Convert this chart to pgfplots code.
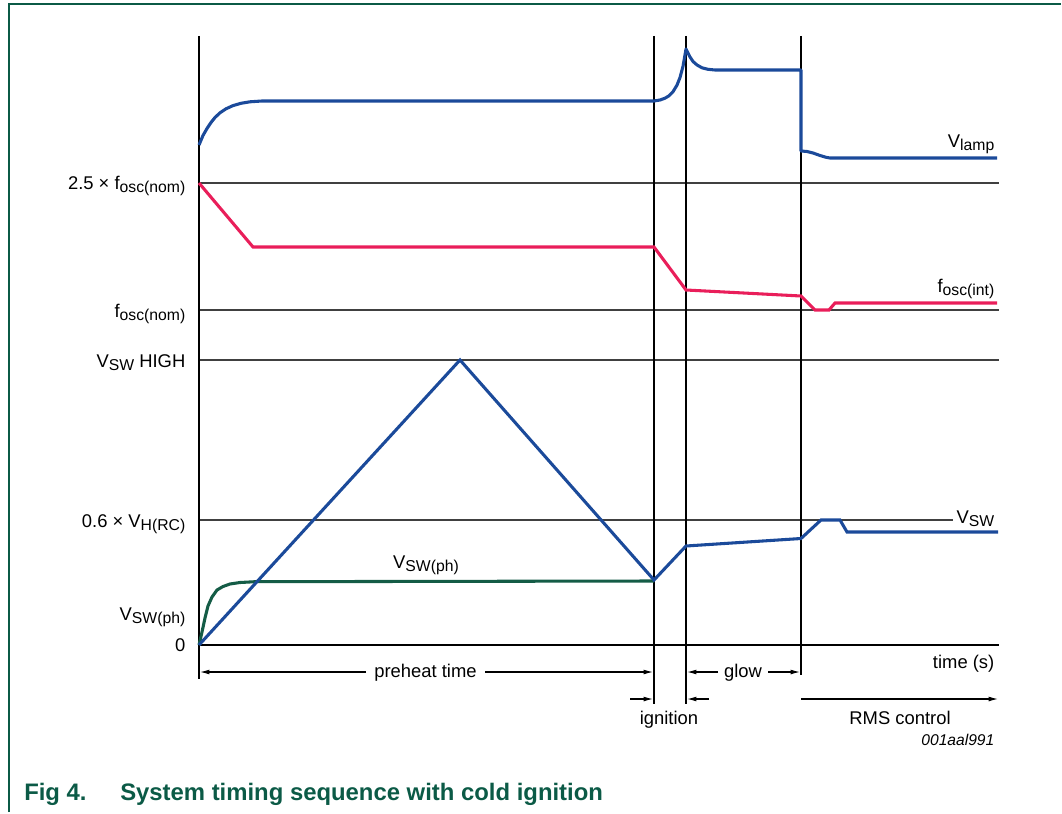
\documentclass[border=0pt]{standalone}
\usepackage{pgfplots}
\pgfplotsset{compat=1.18}
\usepackage{fontspec}
\setmainfont{Liberation Sans}
\usetikzlibrary{arrows.meta}
\definecolor{lampblue}{HTML}{1B4A9A}
\definecolor{oscpink}{HTML}{E91E5A}
\definecolor{phgreen}{HTML}{145C46}
\definecolor{nxpgreen}{HTML}{0B5A46}
\newcommand\lbl{\fontsize{13.8}{16}\selectfont}
\newcommand\sub[1]{\raisebox{-2.6pt}{\fontsize{11.8}{13}\selectfont #1}}
\begin{document}
\begin{tikzpicture}
\begin{axis}[scale only axis, width=796.5pt, height=609pt,
  xmin=0, xmax=1062, ymin=0, ymax=812, y dir=reverse,
  hide axis, clip=false]
\path (axis cs:0,0) rectangle (axis cs:1062,812);
% frame
\draw[nxpgreen, line width=1.5pt] (axis cs:8.5,812) -- (axis cs:8.5,4.5) -- (axis cs:1061,4.5);
% horizontal reference lines
\draw[black!75, line width=0.9pt] (axis cs:199,183) -- (axis cs:999,183);
\draw[black!75, line width=0.9pt] (axis cs:199,310) -- (axis cs:999,310);
\draw[black!75, line width=0.9pt] (axis cs:199,360) -- (axis cs:999,360);
\draw[black!75, line width=0.9pt] (axis cs:199,520) -- (axis cs:953,520);
\draw[black, line width=1.2pt] (axis cs:199,645) -- (axis cs:999,645);
% vertical lines
\draw[black, line width=0.9pt] (axis cs:199,36) -- (axis cs:199,679);
\draw[black, line width=0.9pt] (axis cs:654,36) -- (axis cs:654,704);
\draw[black, line width=0.9pt] (axis cs:686,36) -- (axis cs:686,704);
\draw[black, line width=0.9pt] (axis cs:801,36) -- (axis cs:801,675);
% V_lamp
\addplot[lampblue, line width=2.3pt, line join=round] coordinates {
(199,145) (203,135.5) (207,128.5) (211,122.5) (215,117.5) (220,112.8) (226,108.8)
(233,105.6) (241,103.3) (250,101.8) (262,101) (654,101) (660,100) (665,98.2)
(669,95.8) (673,91.7) (677,85.1) (680,77.5) (683,66.3) (686,49) (688,53)
(690,57) (693,61.5) (697,65) (702,67.8) (708,69.3) (715,70) (801,70)
(801,151) (807,151.5) (813,153) (820,155.5) (826,157.3) (830,158) (997,158)};
% f_osc(int)
\addplot[oscpink, line width=2.3pt] coordinates {
(199,183) (253,247) (654,247) (686,290) (801,296) (815,310) (829,310) (835,303) (997,303)};
% V_SW(ph)
\addplot[phgreen, line width=2.3pt, line join=round] coordinates {
(199,645) (202,632) (205,618) (208,606) (212,597) (217,590) (223,586.5)
(230,584) (240,582.5) (255,581.7) (654,581)};
% V_SW
\addplot[lampblue, line width=2.3pt] coordinates {
(199,645) (460,360) (654,580) (686,546) (801,538.5) (821,520) (840,520) (847,532) (998,532)};
% y labels
\node[anchor=base east, font=\lbl] at (axis cs:190,189.5) {2.5 × f\sub{osc(nom)}};
\node[anchor=base east, font=\lbl] at (axis cs:190,317) {f\sub{osc(nom)}};
\node[anchor=base east, font=\lbl] at (axis cs:190,367) {V\sub{SW} HIGH};
\node[anchor=base east, font=\lbl] at (axis cs:190,527.5) {0.6 × V\sub{H(RC)}};
\node[anchor=base east, font=\lbl] at (axis cs:190,620.5) {V\sub{SW(ph)}};
\node[anchor=base east, font=\lbl] at (axis cs:190,651) {0};
% curve labels
\node[anchor=base east, font=\lbl] at (axis cs:999,147) {V\sub{lamp}};
\node[anchor=base east, font=\lbl] at (axis cs:999,292.5) {f\sub{osc(int)}};
\node[anchor=base east, font=\lbl] at (axis cs:999,523) {V\sub{SW}};
\node[anchor=base, font=\lbl] at (axis cs:426,568) {V\sub{SW(ph)}};
% time annotations
\node[anchor=base east, font=\lbl] at (axis cs:999,668) {time (s)};
\draw[line width=0.8pt, -{Latex[length=7pt,width=3.6pt]}] (axis cs:366,672) -- (axis cs:200,672);
\draw[line width=0.8pt, -{Latex[length=7pt,width=3.6pt]}] (axis cs:485,672) -- (axis cs:653,672);
\node[anchor=base, font=\lbl] at (axis cs:425.5,677) {preheat time};
\draw[line width=0.8pt, -{Latex[length=7pt,width=3.6pt]}] (axis cs:718,672) -- (axis cs:687,672);
\draw[line width=0.8pt, -{Latex[length=7pt,width=3.6pt]}] (axis cs:768,672) -- (axis cs:800,672);
\node[anchor=base, font=\lbl] at (axis cs:743,677) {glow};
\draw[line width=0.8pt, -{Latex[length=7pt,width=3.6pt]}] (axis cs:630,699) -- (axis cs:653,699);
\draw[line width=0.8pt, -{Latex[length=7pt,width=3.6pt]}] (axis cs:709,699) -- (axis cs:687,699);
\node[anchor=base, font=\lbl] at (axis cs:669,724) {ignition};
\draw[line width=0.8pt, -{Latex[length=7pt,width=3.6pt]}] (axis cs:801,699) -- (axis cs:998,699);
\node[anchor=base, font=\lbl] at (axis cs:900,724) {RMS control};
\node[anchor=base east, font={\fontsize{11.7}{13}\selectfont\itshape}] at (axis cs:999,745.5) {001aal991};
% caption
\node[anchor=base west, font={\fontsize{17.9}{21}\selectfont\bfseries}, text=nxpgreen, inner sep=0pt] at (axis cs:24,800) {Fig 4.};
\node[anchor=base west, font={\fontsize{17.9}{21}\selectfont\bfseries}, text=nxpgreen, inner sep=0pt] at (axis cs:120,800) {System timing sequence with cold ignition};
\end{axis}
\end{tikzpicture}
\end{document}
